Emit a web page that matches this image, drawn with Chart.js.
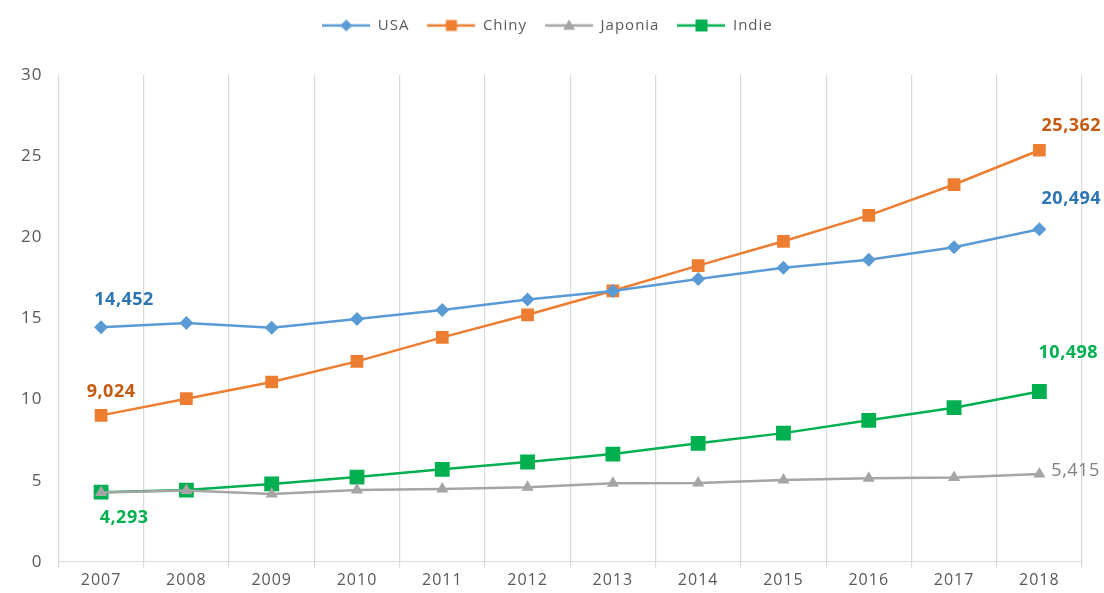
<!DOCTYPE html>
<html>
<head>
<meta charset="utf-8">
<script src="https://cdn.jsdelivr.net/npm/chart.js@4"></script>
<style>
  body { margin: 0; background: #fff; }
  #wrap { width: 1104px; height: 593px; }
</style>
</head>
<body>
<div id="wrap"><canvas id="chart"></canvas></div>
<script>
const years = ["2007", "2008", "2009", "2010", "2011", "2012", "2013", "2014", "2015", "2016", "2017", "2018"];
const usa = [14.452, 14.71, 14.42, 14.96, 15.52, 16.16, 16.69, 17.43, 18.12, 18.62, 19.39, 20.494];
const chiny = [9.024, 10.05, 11.08, 12.35, 13.83, 15.22, 16.7, 18.25, 19.75, 21.35, 23.25, 25.362];
const japonia = [4.27, 4.39, 4.18, 4.42, 4.49, 4.6, 4.84, 4.85, 5.04, 5.15, 5.2, 5.415];
const indie = [4.293, 4.42, 4.8, 5.22, 5.7, 6.15, 6.64, 7.3, 7.93, 8.72, 9.5, 10.498];
const yTicks = [0, 5, 10, 15, 20, 25, 30];

const ctx = document.getElementById("chart");
const FONT = "'Open Sans', 'DejaVu Sans', sans-serif";

// small legend icons: line with the marker in the middle
function legendIcon(color, shape, r) {
  const c = document.createElement("canvas");
  c.width = 48; c.height = 16;
  const g = c.getContext("2d");
  g.strokeStyle = color;
  g.lineWidth = 2.5;
  g.beginPath(); g.moveTo(0, 8); g.lineTo(48, 8); g.stroke();
  g.fillStyle = color;
  g.beginPath();
  if (shape === "diamond") {
    g.moveTo(24, 8 - r); g.lineTo(24 + r, 8); g.lineTo(24, 8 + r); g.lineTo(24 - r, 8);
  } else if (shape === "triangle") {
    g.moveTo(24, 8 - r); g.lineTo(24 + r, 8 + r * 0.7); g.lineTo(24 - r, 8 + r * 0.7);
  } else {
    g.rect(24 - r, 8 - r, 2 * r, 2 * r);
  }
  g.closePath(); g.fill();
  return c;
}

function fmt(v) {
  return v.toFixed(3).replace(".", ",");
}

// value labels next to first / last points
const labelSpec = [
  { ds: 0, color: "#2E75B6", bold: true, items: [[0, 23, -27, "center"], [11, 32, -30, "center"]] },
  { ds: 1, color: "#C55A11", bold: true, items: [[0, 10, -23, "center"], [11, 32, -24, "center"]] },
  { ds: 2, color: "#7F7F7F", bold: false, items: [[11, 12, -3, "left"]] },
  { ds: 3, color: "#00B050", bold: true, items: [[0, 23, 26, "center"], [11, 29, -39, "center"]] }
];

const pointLabels = {
  id: "pointLabels",
  afterDatasetsDraw(chart) {
    const c = chart.ctx;
    c.save();
    c.textBaseline = "middle";
    c.letterSpacing = "0.5px";
    labelSpec.forEach((s) => {
      const meta = chart.getDatasetMeta(s.ds);
      const data = chart.data.datasets[s.ds].data;
      c.fillStyle = s.color;
      c.font = (s.bold ? "bold " : "") + "18px " + FONT;
      s.items.forEach((it) => {
        const p = meta.data[it[0]];
        c.textAlign = it[3];
        c.fillText(fmt(data[it[0]]), p.x + it[1], p.y + it[2]);
      });
    });
    c.restore();
  }
};

// wider text like the original, and more room under the legend
const spacing = {
  id: "spacing",
  beforeInit(chart) {
    const fit = chart.legend.fit;
    chart.legend.fit = function () {
      fit.call(this);
      this.height += 32;
    };
  },
  beforeLayout(chart) { chart.ctx.letterSpacing = "1px"; },
  beforeDraw(chart) { chart.ctx.letterSpacing = "1px"; }
};

const icons = [
  legendIcon("#5B9BD5", "diamond", 6),
  legendIcon("#ED7D31", "square", 5.5),
  legendIcon("#A5A5A5", "triangle", 6),
  legendIcon("#00B050", "square", 6)
];

new Chart(ctx, {
  type: "line",
  data: {
    labels: years,
    datasets: [
      {
        label: "USA",
        data: usa,
        borderColor: "#5B9BD5",
        backgroundColor: "#5B9BD5",
        borderWidth: 2.5,
        pointStyle: "rectRot",
        pointRadius: 7,
        pointBorderWidth: 0
      },
      {
        label: "Chiny",
        data: chiny,
        borderColor: "#ED7D31",
        backgroundColor: "#ED7D31",
        borderWidth: 2.5,
        pointStyle: "rect",
        pointRadius: 9,
        pointBorderWidth: 0
      },
      {
        label: "Japonia",
        data: japonia,
        borderColor: "#A5A5A5",
        backgroundColor: "#A5A5A5",
        borderWidth: 2.5,
        pointStyle: "triangle",
        pointRadius: 7,
        pointBorderWidth: 0
      },
      {
        label: "Indie",
        data: indie,
        borderColor: "#00B050",
        backgroundColor: "#00B050",
        borderWidth: 2.5,
        pointStyle: "rect",
        pointRadius: 10.5,
        pointBorderWidth: 0
      }
    ]
  },
  options: {
    responsive: true,
    maintainAspectRatio: false,
    animation: false,
    layout: { padding: { left: 13, right: 22, top: 0, bottom: 0 } },
    plugins: {
      tooltip: { enabled: false },
      legend: {
        position: "top",
        labels: {
          color: "#595959",
          font: { family: FONT, size: 15 },
          usePointStyle: true,
          pointStyleWidth: 48,
          padding: 18,
          generateLabels(chart) {
            return chart.data.datasets.map((d, i) => ({
              text: d.label,
              fontColor: "#595959",
              pointStyle: icons[i],
              datasetIndex: i,
              lineWidth: 0,
              strokeStyle: "transparent",
              fillStyle: "transparent"
            }));
          }
        }
      }
    },
    scales: {
      x: {
        offset: true,
        grid: { offset: true, color: "#D9D9D9", lineWidth: 1.2, tickLength: 6 },
        border: { color: "#D9D9D9" },
        ticks: { color: "#595959", font: { family: FONT, size: 16 }, padding: 3 }
      },
      y: {
        min: 0,
        max: 30,
        afterBuildTicks(axis) {
          axis.ticks = yTicks.map((v) => ({ value: v }));
        },
        grid: { display: false },
        border: { display: false },
        ticks: { color: "#595959", font: { family: FONT, size: 17 }, padding: 8 }
      }
    }
  },
  plugins: [spacing, pointLabels]
});
</script>
</body>
</html>
